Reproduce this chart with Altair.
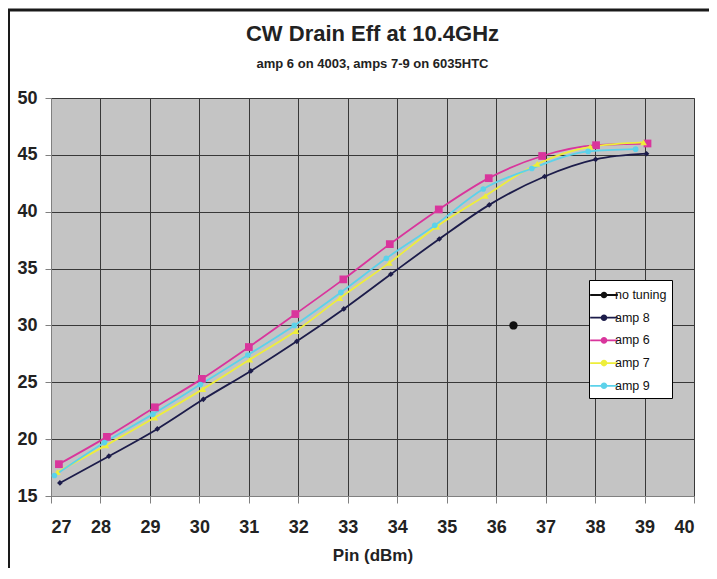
import altair as alt
import pandas as pd

# ---- data ----
series_order = ["no tuning", "amp 8", "amp 6", "amp 7", "amp 9"]
series_colors = ["#111111", "#1c1c4a", "#d9359c", "#eeee3a", "#5cd2ea"]
series_shapes = ["circle", "diamond", "square", "triangle-up", "circle"]
series_sizes = [70, 32, 60, 45, 32]

notune_x = [36.35]
notune_y = [30.0]

amp8_x = [27.18, 28.17, 29.15, 30.08, 31.04, 31.97, 32.92, 33.87, 34.85, 35.86, 36.98, 38.01, 39.04]
amp8_y = [16.15, 18.5, 20.9, 23.5, 26.0, 28.6, 31.45, 34.5, 37.6, 40.6, 43.1, 44.6, 45.1]

amp6_x = [27.16, 28.13, 29.1, 30.05, 31.0, 31.94, 32.91, 33.85, 34.84, 35.85, 36.93, 38.02, 39.06]
amp6_y = [17.8, 20.2, 22.8, 25.3, 28.1, 31.0, 34.05, 37.15, 40.2, 42.95, 44.9, 45.85, 46.0]

amp7_x = [27.13, 28.11, 29.1, 30.07, 31.02, 31.95, 32.84, 33.84, 34.8, 35.78, 36.83, 37.9, 38.98]
amp7_y = [17.1, 19.45, 21.9, 24.4, 27.0, 29.5, 32.4, 35.5, 38.7, 41.4, 44.2, 45.7, 46.1]

amp9_x = [27.07, 28.08, 29.06, 30.02, 30.98, 31.92, 32.86, 33.78, 34.76, 35.74, 36.72, 37.86, 38.82]
amp9_y = [16.8, 19.7, 22.2, 24.8, 27.4, 30.0, 32.9, 35.9, 38.8, 42.0, 43.8, 45.3, 45.5]

x_ticks = list(range(27, 41))
y_ticks = list(range(15, 51, 5))

rows = []
for name, xs, ys in [("no tuning", notune_x, notune_y), ("amp 8", amp8_x, amp8_y),
                     ("amp 6", amp6_x, amp6_y), ("amp 7", amp7_x, amp7_y),
                     ("amp 9", amp9_x, amp9_y)]:
    for i, (a, b) in enumerate(zip(xs, ys)):
        rows.append({"series": name, "pin": a, "eff": b, "order": i})
df = pd.DataFrame(rows)

FONT = "Liberation Sans"

color_scale = alt.Scale(domain=series_order, range=series_colors)

xenc = alt.X("pin:Q", scale=alt.Scale(domain=[27, 40], nice=False, zero=False),
             axis=alt.Axis(values=x_ticks, title="Pin (dBm)", tickSize=7,
                           labelPadding=15, titlePadding=11))
yenc = alt.Y("eff:Q", scale=alt.Scale(domain=[15, 50], nice=False, zero=False),
             axis=alt.Axis(values=y_ticks, title=None, tickSize=6, labelPadding=8))

legend_symbol = ("M-1.5,-0.1H1.5V0.1H-1.5Z "
                 "M-0.36,0A0.36,0.36 0 1,1 0.36,0A0.36,0.36 0 1,1 -0.36,0Z")

legend = alt.Legend(title=None, orient="none", legendX=538, legendY=182,
                    symbolType=legend_symbol, symbolSize=340,
                    fillColor="white", strokeColor="black",
                    padding=5, rowPadding=5.7, labelFontSize=12.5,
                    labelFont=FONT, labelColor="#111", labelOffset=1)

line_layers = []
for name, col in zip(series_order, series_colors):
    if name == "no tuning":
        continue
    line_layers.append(
        alt.Chart(df[df.series == name]).mark_line(
            interpolate="monotone", strokeWidth=1.8, color=col
        ).encode(x=xenc, y=yenc, order="order:Q")
    )

point_layers = []
for name, shp, sz in zip(series_order, series_shapes, series_sizes):
    point_layers.append(
        alt.Chart(df[df.series == name]).mark_point(
            filled=True, opacity=1, shape=shp, size=sz
        ).encode(
            x=xenc, y=yenc,
            color=alt.Color("series:N", scale=color_scale, legend=legend),
        )
    )

frame_df = pd.DataFrame({"k": [0]})
top_line = alt.Chart(frame_df).mark_rule(color="#1a1a1a", strokeWidth=3).encode(
    x=alt.value(-44), x2=alt.value(660), y=alt.value(-88))
left_line = alt.Chart(frame_df).mark_rule(color="#1a1a1a", strokeWidth=2).encode(
    x=alt.value(-42), y=alt.value(-89), y2=alt.value(470))

chart = alt.layer(*line_layers, *point_layers, top_line, left_line).properties(
    width=643, height=398,
    background="white",
    autosize=alt.AutoSizeParams(type="none"),
    padding={"left": 43, "top": 90, "right": 15, "bottom": 72},
    title=alt.TitleParams(text="CW Drain Eff  at 10.4GHz",
                          subtitle="amp 6 on 4003, amps 7-9 on 6035HTC",
                          anchor="middle", frame="group", fontSize=22, font=FONT,
                          fontWeight="bold",
                          color="#222", subtitleFont=FONT, subtitleFontSize=13,
                          subtitleFontWeight="bold", subtitleColor="#222",
                          subtitlePadding=12, offset=-64),
).configure_view(
    fill="#c4c4c4", stroke="#808080", strokeWidth=1
).configure_axis(
    grid=True, gridColor="#383838", gridWidth=1, gridOpacity=1,
    domainColor="#808080", tickColor="#808080",
    labelFont=FONT, labelFontSize=18, labelFontWeight="bold", labelColor="#222",
    titleFont=FONT, titleFontSize=17, titleFontWeight="bold", titleColor="#222",
)

chart.save("out.html", embed_options={"renderer": "svg", "actions": False})
